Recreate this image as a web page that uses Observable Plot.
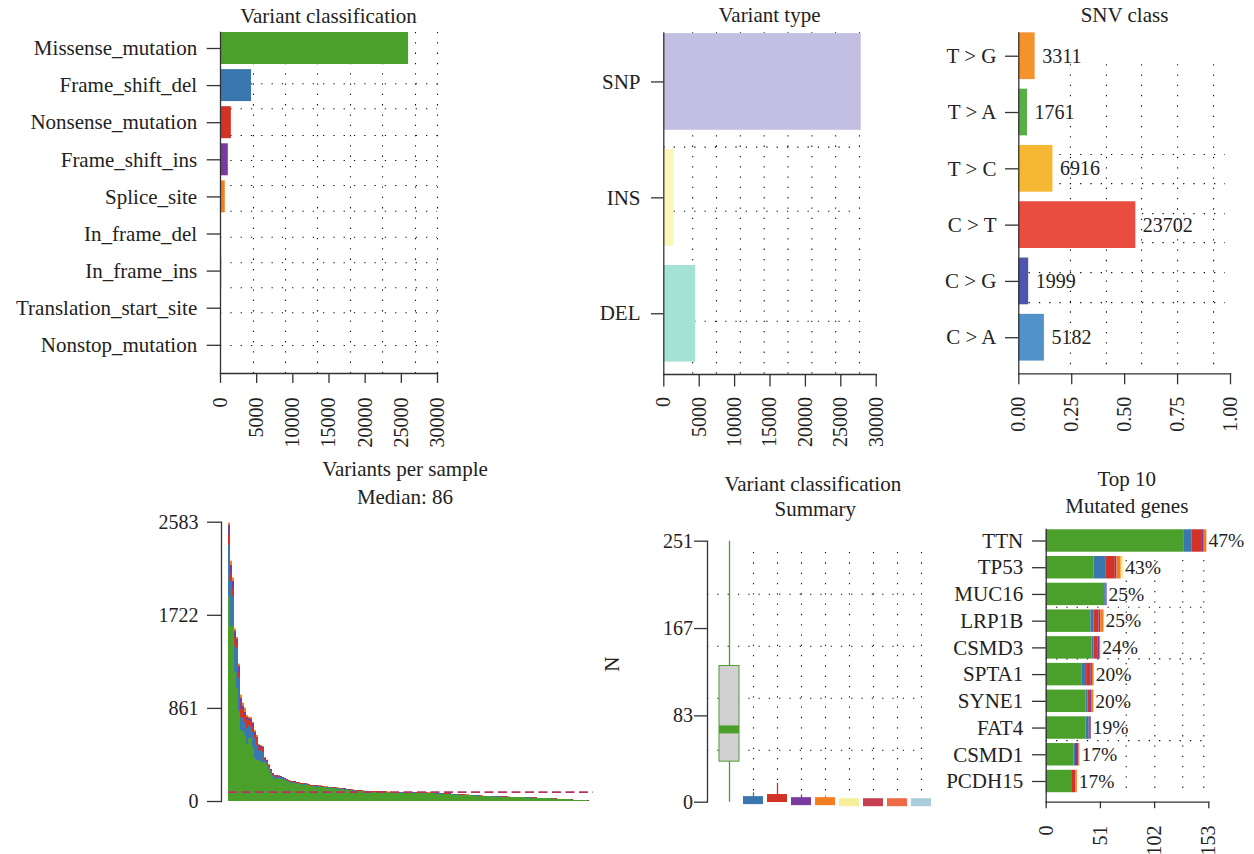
<!DOCTYPE html>
<html><head><meta charset="utf-8">
<script src="https://cdn.jsdelivr.net/npm/d3@7"></script>
<script src="https://cdn.jsdelivr.net/npm/@observablehq/plot@0.6"></script>
<style>
html,body{margin:0;padding:0;background:#fff;}
#root{position:relative;width:1254px;height:854px;overflow:hidden;font-family:"Liberation Serif",serif;color:#222;}
.ttl{position:absolute;width:500px;text-align:center;font-size:21px;line-height:21px;white-space:nowrap;}
#root svg{position:absolute;max-width:none;overflow:visible;}
</style></head><body><div id="root"></div>
<script>
// ---------- Variant classification ----------
const vcClasses = ["Missense_mutation","Frame_shift_del","Nonsense_mutation","Frame_shift_ins","Splice_site","In_frame_del","In_frame_ins","Translation_start_site","Nonstop_mutation"];
const vcCounts = [26000, 4290, 1500, 1080, 660, 120, 160, 40, 30];
const vcColors = ["#4aa02a","#3a77af","#d23326","#7a3ba0","#f47d20","#f6ee9a","#c64050","#ee6946","#aacdde"];
const vcTicks = [0, 5000, 10000, 15000, 20000, 25000, 30000];
const vcGridX = [4560, 8990, 13410, 17970, 22400, 26960, 30000];
const vcGridY = [0.951, 1.625, 2.345, 3.019, 3.693, 4.385, 5.086, 5.776, 6.45, 7.124, 8.005];

// ---------- Variant type ----------
const vtTypes = ["SNP","INS","DEL"];
const vtCounts = [27890, 1400, 4510];
const vtColors = ["#c2bfe2","#fbf6b9","#a4e2d6"];
const vtTicks = [0, 5000, 10000, 15000, 20000, 25000, 30000];
const vtGridX = [4080, 7443, 10810, 14180, 17540, 20910, 24270, 27640];
const vtGridY = [0.5625, 1.115, 2.064];

// ---------- SNV class ----------
const snvClasses = ["T > G","T > A","T > C","C > T","C > G","C > A"];
const snvCounts = [3311, 1761, 6916, 23702, 1999, 5182];
const snvColors = ["#f4922b","#5aae48","#f6b733","#e84d40","#4d55ad","#5192cb"];
const snvTicks = [0, 0.25, 0.5, 0.75, 1];
const snvGridX = [0.244, 0.414, 0.58, 0.75, 0.92];
const snvGridY = [1.746, 2.263, 2.796, 3.311, 3.844, 4.377];

// ---------- Variants per sample ----------
const perClasses = ["Missense_mutation","Frame_shift_del","Nonsense_mutation","Frame_shift_ins","Splice_site","In_frame_del"];
const perColors = ["#4aa02a","#3a77af","#d23326","#7a3ba0","#f47d20","#f3dca0"];
const perTicks = [0, 861, 1722, 2583];
const perTotal = [
2583,2231,2068,1605,1521,1275,988,913,873,796,
784,781,734,657,611,525,518,512,405,385,
340,300,260,245,240,238,232,222,213,205,
198,190,188,185,180,178,170,167,165,163,
160,152,150,148,148,146,145,140,137,136,
134,132,130,127,126,125,124,121,118,115,
111,110,108,106,104,102,101,99,98,96,
95,94,93,93,92,92,91,90,90,89,
88,88,87,87,87,86,86,86,86,86,
86,86,85,84,84,83,83,82,82,81,
80,80,79,78,78,77,76,75,74,73,
72,71,70,68,67,66,65,64,63,62,
61,60,59,57,56,55,54,52,50,49,
48,47,46,46,45,45,44,44,43,43,
42,42,41,41,40,40,40,39,38,37,
36,35,35,34,33,32,31,30,30,29,
28,27,26,25,24,23,22,21,20,19,
18,16,15,13,11,10,9,8,7,6,
5,4,3];
const perFsd = [
478,408,269,247,364,303,124,117,123,148,124,102,139,185,138,92,108,99,22,
30,25,22,18,20,15,14,12,10,11,9,
9,10,8,8,9,7,8,7,7,6,7,6,6,7,5,6,6,5,5,6,
5,6,5,4,6,5,5,4,5,6,
4,5,4,5,4,4,5,4,4,5,
4,4,5,4,4,3,4,4,5,4,
4,4,3,4,4,4,3,4,4,3,
4,3,4,4,3,4,3,4,3,4,
3,4,3,3,4,3,3,3,4,3,
3,3,3,4,3,3,3,2,3,3,
3,3,2,3,3,3,3,2,3,3,
2,2,3,2,2,3,2,2,3,2,
2,2,3,2,2,2,2,3,2,2,
2,2,1,2,2,2,1,2,2,1,
2,1,1,2,1,1,2,1,1,1,
1,1,1,1,0,1,1,0,1,0,
0,1,0];
const perNon = [
99,67,77,62,62,61,77,77,62,86,46,46,55,31,62,31,22,31,9,
12,10,9,8,8,7,6,6,5,5,4,
5,5,6,4,5,4,4,5,4,4,3,4,4,3,4,3,4,3,3,4,
4,3,3,4,3,3,4,3,3,3,
3,3,4,3,3,3,2,3,3,3,
3,2,3,3,2,3,3,2,3,3,
2,3,2,3,2,2,3,2,3,2,
2,3,2,2,3,2,2,2,3,2,
2,2,2,2,2,2,3,2,2,2,
2,2,2,2,2,1,2,2,2,2,
1,2,2,2,1,2,2,2,1,2,
2,1,2,2,2,1,2,1,2,2,
1,2,1,2,2,1,2,1,2,1,
2,1,2,1,1,1,1,1,1,1,
1,1,1,1,1,0,1,1,0,1,
0,1,1,0,1,0,0,1,0,0,
1,0,0];
const perFsi = [
86,87,62,62,25,47,99,41,31,22,15,25,22,31,16,15,18,15,12,
6,5,5,4,4,3,3,3,3,2,2,
2,2,2,2,2,2,2,2,2,2,2,2,2,2,2,1,2,2,1,2,
2,1,2,1,2,1,2,1,2,1,
2,1,1,2,1,1,2,1,1,1,
2,1,1,1,1,2,1,1,1,1,
1,1,1,1,1,1,1,1,1,1,
1,1,1,1,1,1,1,1,1,1,
1,1,1,1,1,1,1,1,1,1,
1,1,1,1,1,1,1,1,1,1,
1,0,1,1,0,1,1,0,1,1,
0,1,1,0,1,0,1,1,0,1,
0,1,0,1,0,1,0,1,0,1,
0,1,0,0,1,0,0,1,0,0,
1,0,0,1,0,0,0,1,0,0,
0,0,1,0,0,0,0,0,0,0,
0,0,0];
const perSpl = [
20,35,27,27,15,23,22,22,34,11,14,16,11,11,11,5,4,6,3,
4,4,3,3,3,3,2,2,2,2,2,
2,2,2,2,2,2,2,2,2,2,2,2,2,1,2,2,1,2,2,1,
2,1,2,1,2,1,1,2,1,1,
2,1,1,1,2,1,1,1,1,2,
1,1,1,1,1,1,1,1,1,1,
1,1,1,1,1,1,1,1,1,1,
1,1,1,1,1,1,1,1,1,1,
1,1,1,1,1,1,1,1,1,1,
1,1,1,1,1,1,1,1,1,1,
1,1,0,1,1,0,1,1,0,1,
1,0,1,1,0,1,0,1,1,0,
1,0,1,0,1,0,1,0,1,0,
1,0,0,1,0,0,1,0,0,1,
0,0,1,0,0,1,0,0,0,1,
0,0,0,0,1,0,0,0,0,0,
0,0,0];
const perOth = [
8,11,10,10,6,8,9,8,12,4,5,6,4,4,4,2,2,3,1,
2,2,2,2,2,1,1,1,1,1,1,
1,1,1,1,1,1,1,1,1,1,1,1,1,1,1,1,1,1,1,1,
1,1,1,1,1,1,1,1,1,1,
1,1,1,1,1,1,1,1,1,1,
1,1,1,1,1,1,1,1,1,1,
1,1,1,1,1,1,1,1,1,1,
1,1,1,1,1,1,1,1,1,1,
1,1,1,1,1,1,1,1,1,1,
1,0,1,1,0,1,1,0,1,1,
0,1,1,0,1,0,1,1,0,1,
0,1,0,1,0,1,0,1,0,1,
0,1,0,1,0,0,1,0,0,1,
0,0,1,0,0,1,0,0,1,0,
0,1,0,0,0,1,0,0,0,0,
1,0,0,0,0,0,0,0,0,0,
0,0,0];

// ---------- Variant classification summary ----------
const sumMedian = [70, 2, 4, 1, 1, 0, 0, 0, 0];
const sumQ1 = [39, 0, 0, 0, 0, 0, 0, 0, 0];
const sumQ3 = [131, 4, 7, 2, 2, 1, 1, 0, 0];
const sumMin = [0, 0, 0, 0, 0, 0, 0, 0, 0];
const sumMax = [251, 9, 18, 7, 6, 0, 0, 0, 0];
const sumTicks = [0, 83, 167, 251];
const sumGridY = [50, 100, 150, 200];

// ---------- Top 10 mutated genes ----------
const genes = ["TTN","TP53","MUC16","LRP1B","CSMD3","SPTA1","SYNE1","FAT4","CSMD1","PCDH15"];
const genePct = ["47%","43%","25%","25%","24%","20%","20%","19%","17%","17%"];
const gMis = [130, 45, 55, 42, 43, 34, 37.5, 37.5, 26, 24];
const gFsd = [7, 11, 1.3, 3, 2, 4, 2, 3, 1.5, 0];
const gNon = [10, 9, 0, 4.7, 3.5, 4, 2.2, 1, 0, 3.7];
const gFsi = [1.7, 1.6, 1, 1.6, 2.2, 1.5, 1.5, 0.9, 3.2, 0];
const gSpl = [2.5, 4, 0, 3.1, 0.6, 1.6, 1.6, 0, 1, 1.6];
const gOth = [0, 2.3, 0, 0, 0, 0, 0, 0, 0, 0];
const geneColors = ["#4aa02a","#3a77af","#d23326","#7a3ba0","#f47d20","#f6ee9a"];
const geneTicks = [0, 51, 102, 153];
const geneGridX = [75.3, 102.2, 128.5, 148.3];
const geneGridY = [2.48, 4.41, 7.47];

// ================= rendering =================
const root = document.getElementById("root");
function place(svg, left, top) { svg.style.left = left + "px"; svg.style.top = top + "px"; root.appendChild(svg); }
function title(text, cx, base) {
  const d = document.createElement("div");
  d.className = "ttl"; d.textContent = text;
  d.style.left = (cx - 250) + "px"; d.style.top = (base - 17.6) + "px";
  root.appendChild(d);
}
const baseStyle = {fontFamily: '"Liberation Serif", serif', fontSize: "21px", color: "#222", background: "transparent", overflow: "visible"};
const dotted = {stroke: "#111", strokeWidth: 1.1, strokeDasharray: "1.3,9"};
const ax = {stroke: "#333", strokeWidth: 1.3};

// Panel 1
const vcData = vcClasses.map((c, i) => ({c, i, n: vcCounts[i], color: vcColors[i]}));
place(Plot.plot({
  width: 450, height: 460, marginLeft: 220, marginRight: 13, marginTop: 32, marginBottom: 87,
  style: baseStyle, color: {type: "identity"},
  x: {domain: [0, 30000]}, y: {domain: [8.76, -0.431]},
  marks: [
    Plot.ruleX(vcGridX, dotted),
    Plot.ruleY(vcGridY, dotted),
    Plot.rectX(vcData, {x1: 0, x2: "n", y1: d => d.i - 0.431, y2: d => d.i + 0.431, fill: "color"}),
    Plot.frame({anchor: "left", ...ax}),
    Plot.frame({anchor: "bottom", ...ax}),
    Plot.axisY({ticks: d3.range(vcClasses.length), tickFormat: i => vcClasses[i], tickSize: 13.3, tickPadding: 10, fontSize: 21, label: null, ...ax}),
    Plot.axisX({ticks: vcTicks, tickFormat: d => String(d), tickRotate: -90, tickSize: 10, tickPadding: 14, fontSize: 20, label: null, ...ax})
  ]
}), 0, 0);
title("Variant classification", 328.5, 23.3);

// Panel 2
const vtData = vtTypes.map((c, i) => ({c, i, n: vtCounts[i], color: vtColors[i]}));
place(Plot.plot({
  width: 310, height: 460, marginLeft: 73.3, marginRight: 24.3, marginTop: 32.3, marginBottom: 86,
  style: baseStyle, color: {type: "identity"},
  x: {domain: [0, 30000]}, y: {domain: [2.524, -0.424]},
  marks: [
    Plot.ruleX(vtGridX, dotted),
    Plot.ruleY(vtGridY, {x1: 0, x2: vtGridX[vtGridX.length - 1], ...dotted}),
    Plot.rectX(vtData, {x1: 0, x2: "n", y1: d => d.i - 0.417, y2: d => d.i + 0.417, fill: "color"}),
    Plot.frame({anchor: "left", ...ax}),
    Plot.frame({anchor: "bottom", ...ax}),
    Plot.axisY({ticks: d3.range(vtTypes.length), tickFormat: i => vtTypes[i], tickSize: 12.3, tickPadding: 11, fontSize: 21, label: null, ...ax}),
    Plot.axisX({ticks: vtTicks, tickFormat: d => String(d), tickRotate: -90, tickSize: 12.5, tickPadding: 10, fontSize: 20, label: null, ...ax})
  ]
}), 590, 0);
title("Variant type", 769.5, 23);

// Panel 3
const snvTotal = d3.sum(snvCounts);
const snvData = snvClasses.map((c, i) => ({c, i, n: snvCounts[i], frac: snvCounts[i] / snvTotal, color: snvColors[i]}));
place(Plot.plot({
  width: 354, height: 460, marginLeft: 118.3, marginRight: 24, marginTop: 32.3, marginBottom: 86.7,
  style: baseStyle, color: {type: "identity"},
  x: {domain: [0, 1]}, y: {domain: [5.641, -0.416]},
  marks: [
    Plot.ruleX(snvGridX, {y1: 0.15, y2: 5.641, ...dotted}),
    Plot.ruleY(snvGridY, {x1: 0, x2: 0.976, ...dotted}),
    Plot.rectX(snvData, {x1: 0, x2: "frac", y1: d => d.i - 0.415, y2: d => d.i + 0.415, fill: "color"}),
    Plot.text(snvData, {x: "frac", y: "i", text: d => String(d.n), dx: 7, textAnchor: "start", lineAnchor: "middle", fontSize: 20, fill: "#222"}),
    Plot.frame({anchor: "left", ...ax}),
    Plot.frame({anchor: "bottom", ...ax}),
    Plot.axisY({ticks: d3.range(snvClasses.length), tickFormat: i => snvClasses[i], tickSize: 13.3, tickPadding: 9, fontSize: 21, label: null, ...ax}),
    Plot.axisX({ticks: snvTicks, tickFormat: d3.format(".2f"), tickRotate: -90, tickSize: 11, tickPadding: 12, fontSize: 20, label: null, ...ax})
  ]
}), 900, 0);
title("SNV class", 1124.5, 23);

// Panel 4
const perSample = d3.range(perTotal.length);
const perLong = [];
perSample.forEach(i => {
  const others = [perFsd[i], perNon[i], perFsi[i], perSpl[i], perOth[i]].map(v => v ?? 0);
  const mis = Math.max(0, perTotal[i] - d3.sum(others));
  [mis, ...others].forEach((n, k) => { if (n > 0) perLong.push({sample: i, cls: perClasses[k], n}); });
});
const perMedian = d3.median(perTotal);
place(Plot.plot({
  width: 520, height: 400, marginLeft: 121, marginRight: 27, marginTop: 81.7, marginBottom: 39,
  style: baseStyle,
  x: {type: "band", domain: perSample, range: [128, 493], padding: 0, axis: null},
  y: {domain: [0, perTicks[perTicks.length - 1]]},
  color: {domain: perClasses, range: perColors},
  marks: [
    Plot.barY(perLong, {x: "sample", y: "n", fill: "cls", order: perClasses, shapeRendering: "crispEdges"}),
    Plot.ruleY([perMedian], {x1: 0, x2: perSample.length - 1, stroke: "#b83266", strokeWidth: 1.8, strokeDasharray: "9,4.5"}),
    Plot.frame({anchor: "left", ...ax}),
    Plot.axisY({ticks: perTicks, tickFormat: d => String(d), tickSize: 14, tickPadding: 9, fontSize: 20, label: null, ...ax})
  ]
}), 100, 440);
title("Variants per sample", 405, 476.7);
title("Median: " + perMedian, 405, 505);

// Panel 5
const sumData = vcClasses.map((c, i) => ({c, median: sumMedian[i], q1: sumQ1[i], q3: sumQ3[i], min: sumMin[i], max: sumMax[i], color: vcColors[i]}));
place(Plot.plot({
  width: 345, height: 400, marginLeft: 107, marginRight: 22, marginTop: 100.7, marginBottom: 38.3,
  style: baseStyle, color: {type: "identity"},
  x: {type: "band", domain: vcClasses, range: [115.3, 335.3], paddingInner: 0.18, paddingOuter: 0.09, axis: null},
  y: {domain: [0, 251]},
  marks: [
    Plot.ruleX(vcClasses.slice(1), {y1: 11, y2: 245, ...dotted}),
    Plot.ruleY(sumGridY, dotted),
    Plot.ruleX(sumData.filter(d => d.max > d.min), {x: "c", y1: "min", y2: "max", stroke: "color", strokeWidth: 1.3}),
    Plot.rect(sumData.filter(d => d.q3 - d.q1 > 10), {x: "c", y1: "q1", y2: "q3", fill: "#d2d0d3", stroke: "color", strokeWidth: 1}),
    Plot.tickY(sumData, {x: "c", y: "median", stroke: "color", strokeWidth: 8}),
    Plot.frame({anchor: "left", ...ax}),
    Plot.axisY({ticks: sumTicks, tickFormat: d => String(d), tickSize: 13, tickPadding: 1.5, fontSize: 20, label: null, ...ax}),
    Plot.text(["N"], {frameAnchor: "left", dx: -95.5, rotate: -90, fontSize: 21, fill: "#222"})
  ]
}), 600, 440);
title("Variant classification", 812.8, 491.7);
title("Summary", 815.3, 516.7);

// Panel 6
const geneArrays = [gMis, gFsd, gNon, gFsi, gSpl, gOth];
const geneSegs = [];
const geneTotals = genes.map((g, i) => {
  let acc = 0;
  geneArrays.forEach((arr, k) => {
    const n = arr[i];
    if (n > 0) geneSegs.push({i, x1: acc, x2: acc + n, color: geneColors[k]});
    acc += n;
  });
  return acc;
});
place(Plot.plot({
  width: 314, height: 414, marginLeft: 105.7, marginRight: 45.7, marginTop: 89, marginBottom: 52.3,
  style: baseStyle, color: {type: "identity"},
  x: {domain: [0, 153]}, y: {domain: [9.775, -0.43]},
  marks: [
    Plot.ruleX(geneGridX, {y1: 0.73, y2: 9.5, ...dotted}),
    Plot.ruleY(geneGridY, {x1: 0, x2: 148.3, ...dotted}),
    Plot.rectX(geneSegs, {x1: "x1", x2: "x2", y1: d => d.i - 0.42, y2: d => d.i + 0.42, fill: "color"}),
    Plot.text(genes, {x: (d, i) => geneTotals[i], y: (d, i) => i, text: (d, i) => genePct[i], dx: 1.5, textAnchor: "start", lineAnchor: "middle", fontSize: 19.5, fill: "#222"}),
    Plot.frame({anchor: "left", ...ax}),
    Plot.frame({anchor: "bottom", ...ax}),
    Plot.axisY({ticks: d3.range(genes.length), tickFormat: i => genes[i], tickSize: 13.7, tickPadding: 9.3, fontSize: 21, label: null, ...ax}),
    Plot.axisX({ticks: geneTicks, tickFormat: d => String(d), tickRotate: -90, tickSize: 6.5, tickPadding: 16.8, fontSize: 20, label: null, ...ax})
  ]
}), 940, 440);
title("Top 10", 1126.7, 486.7);
title("Mutated genes", 1126.8, 513.3);
</script></body></html>
